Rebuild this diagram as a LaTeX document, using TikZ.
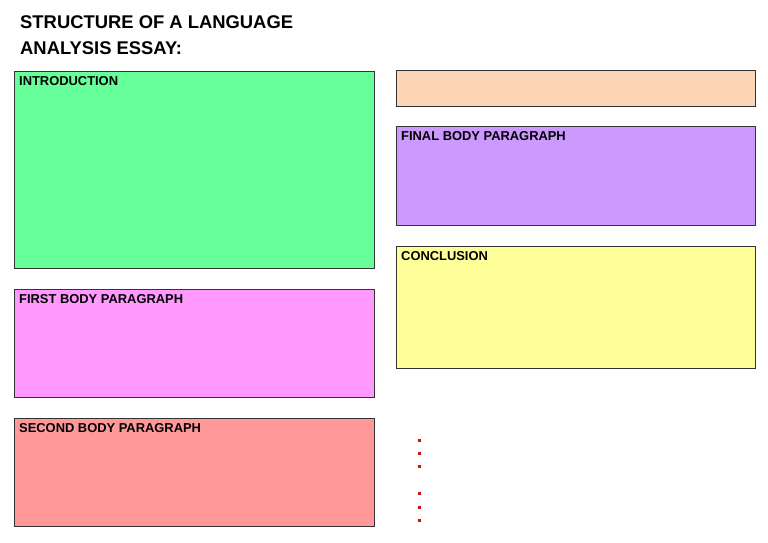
\documentclass[tikz,border=0pt]{standalone}
\usepackage{fontspec}
\setmainfont{Liberation Sans}
\usetikzlibrary{positioning}

\definecolor{introfill}{HTML}{66FF99}
\definecolor{firstfill}{HTML}{FF99FF}
\definecolor{secondfill}{HTML}{FF9999}
\definecolor{topfill}{HTML}{FBD5B5}
\definecolor{finalfill}{HTML}{CC99FF}
\definecolor{conclfill}{HTML}{FFFF99}
\definecolor{dotred}{HTML}{CC1111}

\begin{document}
\begin{tikzpicture}[x=1pt, y=-1pt,
    box/.style={draw=black!80, line width=0.8pt, anchor=north west, inner sep=0pt, minimum width=360pt},
    lbl/.style={inner sep=0pt, font=\bfseries\fontsize{12.9}{14}\selectfont}]
    \useasboundingbox (0,0) rectangle (768,543);

    % title
    \node[anchor=north west, inner sep=0pt, align=left, font=\bfseries\fontsize{18.4}{26}\selectfont] (title) at (20,15)
        {STRUCTURE OF A LANGUAGE\\ANALYSIS ESSAY:};

    % left column
    \node[box, fill=introfill, minimum height=197pt] (intro) at (14,71) {};
    \node[box, fill=firstfill, minimum height=108pt] (first) at (14,289) {};
    \node[box, fill=secondfill, minimum height=108pt] (second) at (14,418) {};

    % right column
    \node[box, fill=topfill, minimum width=359pt, minimum height=36pt] (top) at (396,70) {};
    \node[box, fill=finalfill, minimum width=359pt, minimum height=99pt] (final) at (396,126) {};
    \node[box, fill=conclfill, minimum width=359pt, minimum height=122pt] (concl) at (396,246) {};

    \node[lbl, below right=5pt and 5pt of intro.north west] (introlbl) {INTRODUCTION};
    \node[lbl, below right=5pt and 5pt of first.north west] (firstlbl) {FIRST BODY PARAGRAPH};
    \node[lbl, below right=5pt and 5pt of second.north west] (secondlbl) {SECOND BODY PARAGRAPH};
    \node[lbl, below right=5pt and 5pt of final.north west] (finallbl) {FINAL BODY PARAGRAPH};
    \node[lbl, below right=5pt and 5pt of concl.north west] (concllbl) {CONCLUSION};

    % dots
    \foreach \y in {440,453,466,493,507,520}
        \fill[dotred] (418,\y-1.5) rectangle +(3,3);
\end{tikzpicture}
\end{document}
